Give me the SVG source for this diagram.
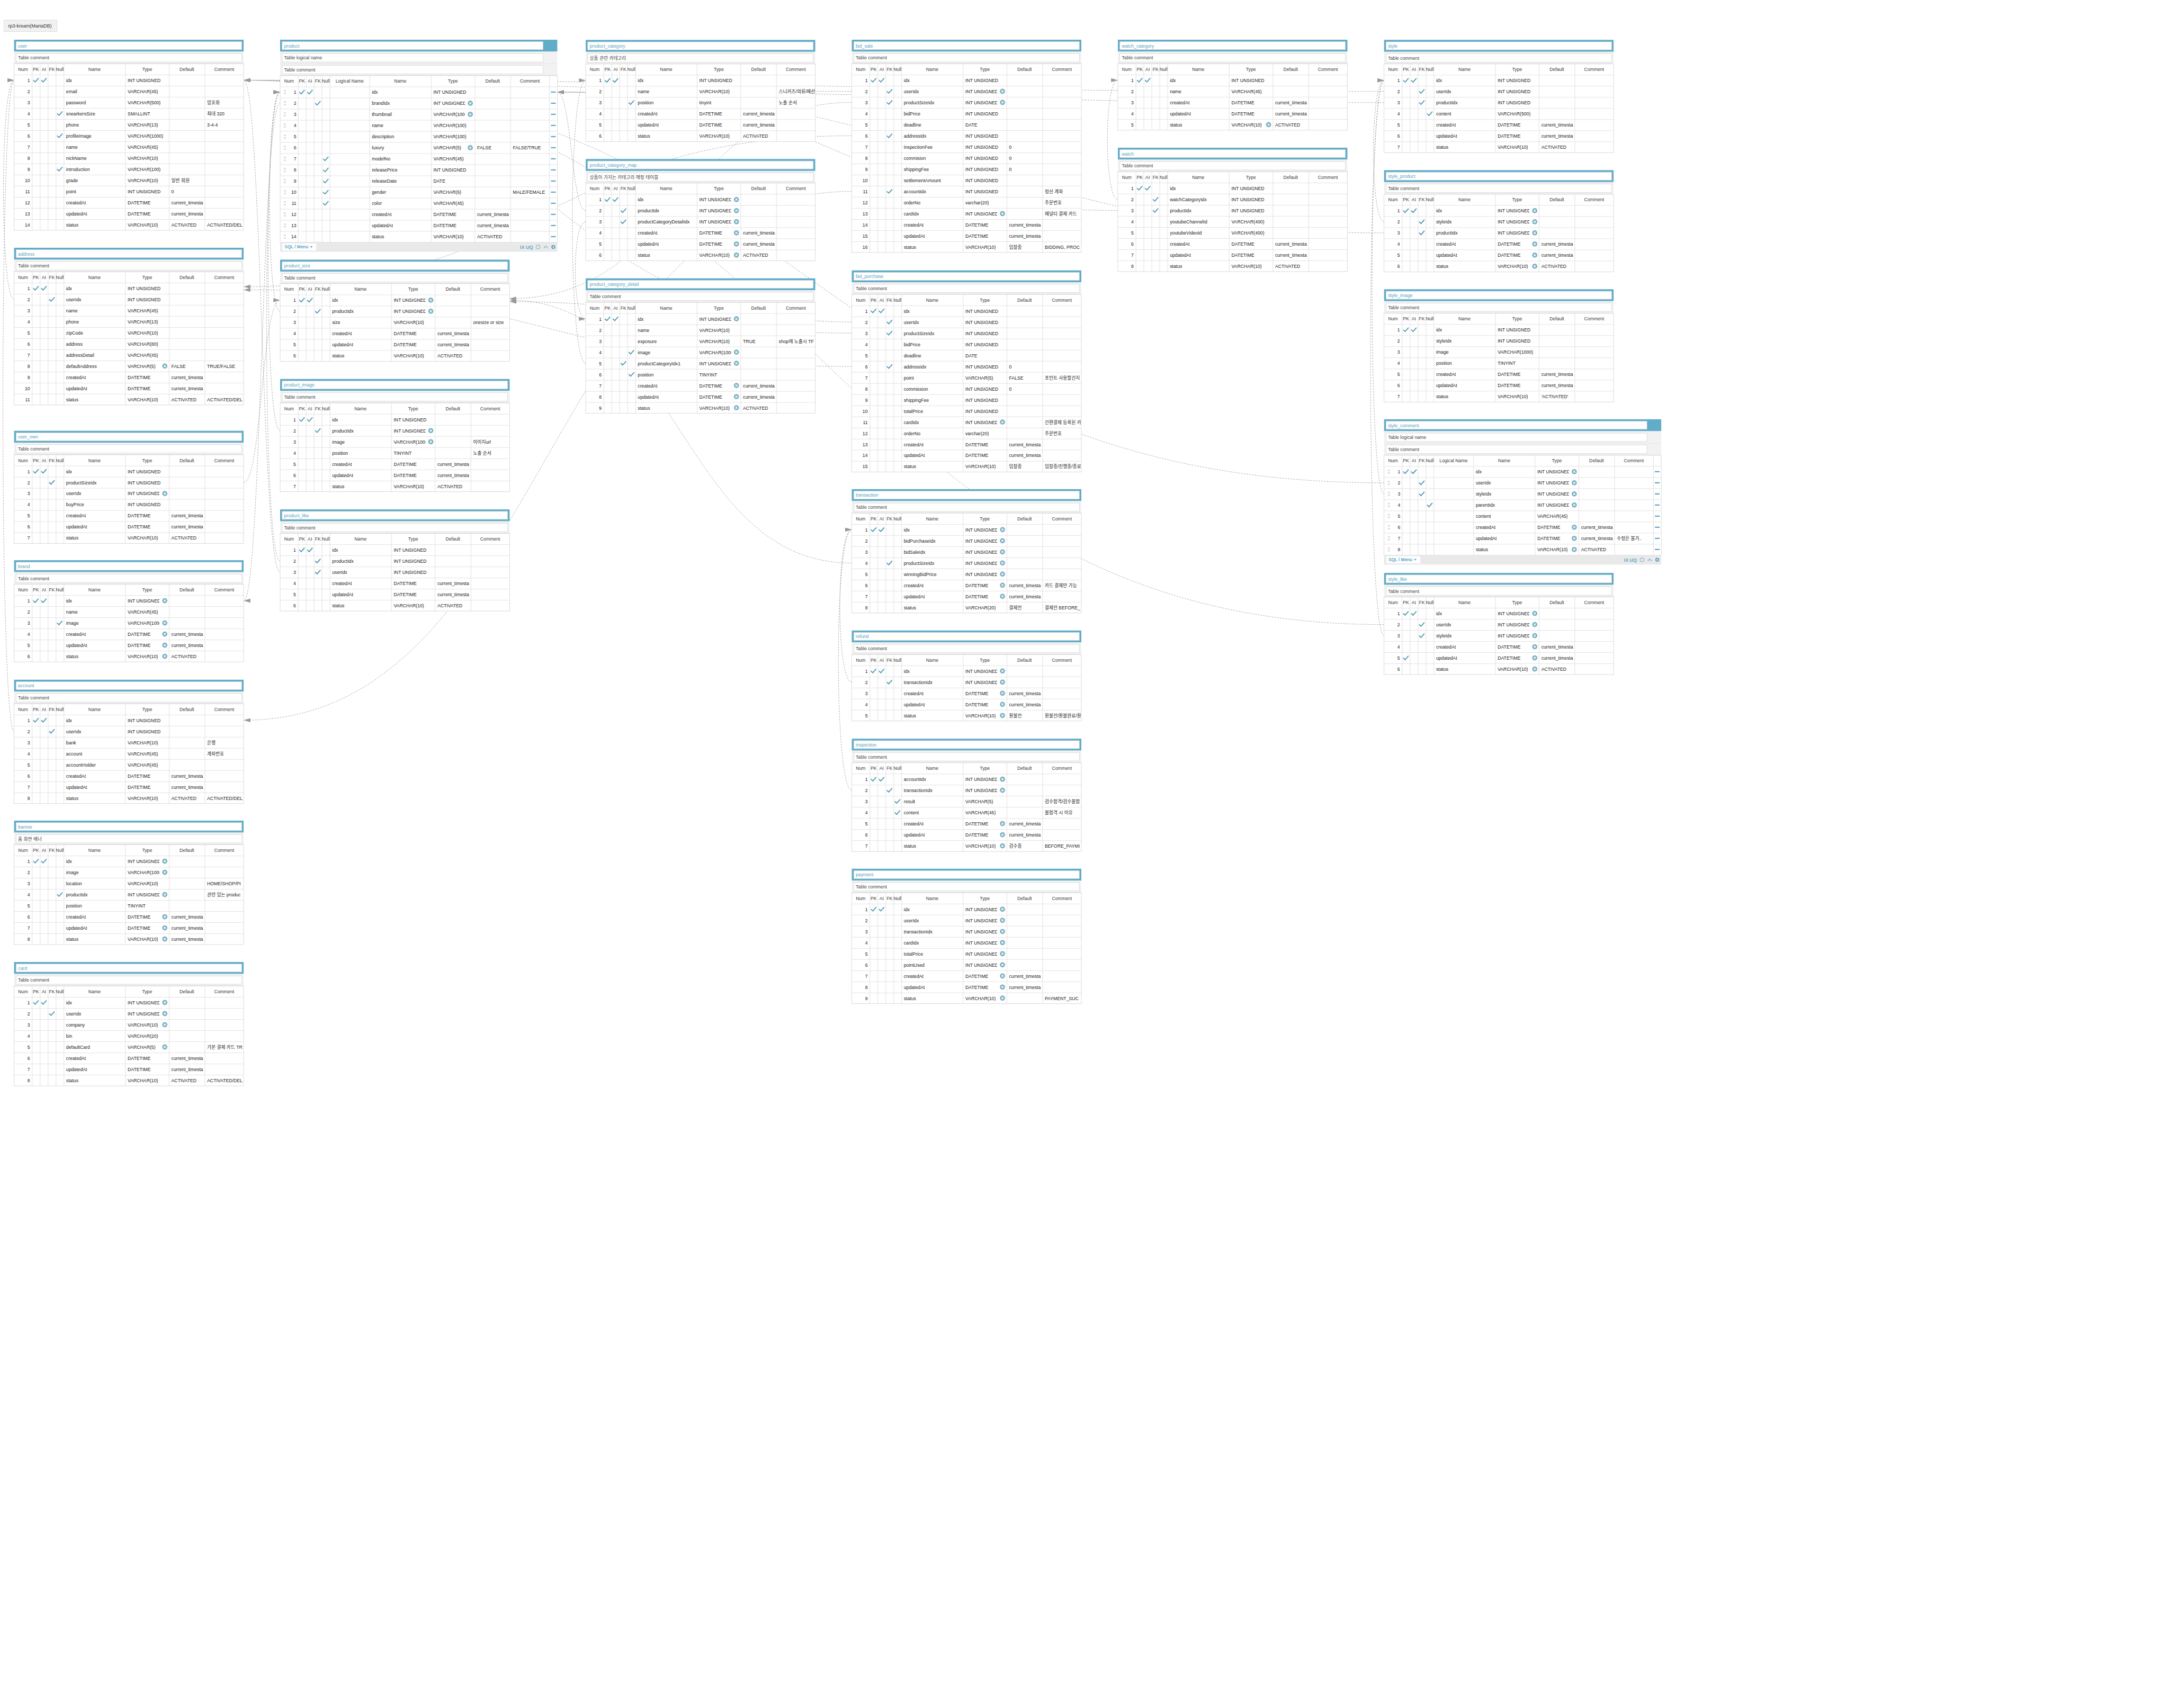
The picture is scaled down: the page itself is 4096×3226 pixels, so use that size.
<svg xmlns="http://www.w3.org/2000/svg" width="4096" height="3226" viewBox="0 0 4096 3226">
<style>
text{font-family:"Liberation Sans","Noto Sans CJK KR",sans-serif;font-size:11.6px;fill:#222}
.h{fill:#3a3a3a;text-anchor:middle}
.n{text-anchor:end}
.t{fill:#5aa3be}
.cm{fill:#444}
.tb{fill:#60acc9}
.bx{fill:#fff;stroke:#d6d6d6}
.co{clip-path:url(#cc)}
.cw{clip-path:url(#cwp)}
.cn path{fill:none;stroke:#9c9c9c;stroke-width:1.1;stroke-dasharray:4 3;marker-end:url(#ar)}
.f{fill:#5fa9c6;font-weight:bold;font-size:11px}
</style>
<defs>
<marker id="ar" markerUnits="userSpaceOnUse" markerWidth="18" markerHeight="12" refX="17" refY="5" orient="auto" viewBox="0 0 18 12"><path d="M0,0L17,5L0,10z" fill="#999"/></marker>
<pattern id="gp" patternUnits="userSpaceOnUse" x="0" y="4" width="578" height="28"><rect width="578" height="28" fill="#fff"/><path d="M0,0.5H578M45.5,0V28M65.5,0V28M85.5,0V28M105.5,0V28M125.5,0V28M280.5,0V28M390.5,0V28M480.5,0V28" stroke="#d5d5d5" fill="none"/></pattern>
<pattern id="gw" patternUnits="userSpaceOnUse" x="0" y="6" width="698" height="28"><rect width="698" height="28" fill="#fff"/><path d="M0,0.5H698M45.5,0V28M65.5,0V28M85.5,0V28M105.5,0V28M125.5,0V28M225.5,0V28M380.5,0V28M490.5,0V28M580.5,0V28M678.5,0V28" stroke="#d5d5d5" fill="none"/></pattern>
<clipPath id="cc"><rect x="481" y="0" width="96" height="600"/></clipPath>
<clipPath id="cwp"><rect x="581" y="0" width="96" height="600"/></clipPath>
<path id="ck" d="M-6,0.5L-2,4.5L6,-4.5" fill="none" stroke="#5a9fb4" stroke-width="2.6" stroke-linecap="round" stroke-linejoin="round"/>
<g id="xi"><rect x="-13.5" y="-9" width="21" height="18" fill="#fff"/><circle r="6.5" fill="#7cb2c4"/><path d="M-2.4,-2.4L2.4,2.4M2.4,-2.4L-2.4,2.4" stroke="#fff" stroke-width="1.7"/></g>
<g id="rw"><path d="M9,-2l3,-4l3,4zM9,2l3,4l3,-4z" fill="#c8c8c8"/><path d="M682,0h12" stroke="#5fa9c6" stroke-width="3"/></g>
<g id="hd"><rect width="578" height="30" class="tb"/><rect x="5" y="5" width="568" height="20" class="bx"/><rect y="30" width="578" height="30" fill="#f2f2f2"/><rect x="5" y="35" width="568" height="21" class="bx"/></g>
<g id="hw"><rect width="698" height="30" class="tb"/><rect x="5" y="5" width="657" height="20" class="bx"/><rect y="30" width="698" height="60" fill="#f2f2f2"/><path d="M0,60.5H698" stroke="#e2e2e2"/><rect x="5" y="35" width="657" height="21" class="bx"/><rect x="5" y="65" width="657" height="21" class="bx"/><path d="M682,104h12M688,98v12" stroke="#5fa9c6" stroke-width="3"/></g>
</defs>
<rect width="4096" height="3226" fill="#fff"/>
<g transform="scale(0.7499)">
<g id="db-label"><rect x="10.2" y="50.7" width="133.4" height="28.7" fill="#f1f1f1" stroke="#d4d4d4"/><text x="20.8" y="69" style="fill:#333;font-size:12px">rp3-kream(MariaDB)</text></g>

<g id="connectors" class="cn">
<path d="M35.5,754C0,754 0,202 35.5,202"/>
<path d="M35.5,1842C-2,1842 -2,202 35.5,202"/>
<path d="M613.5,1215C659,1215 659,756 705.4,756"/>
<path d="M705.4,260C659,260 659,1513 613.5,1513"/>
<path d="M705.4,784C670,784 670,232 705.4,232"/>
<path d="M705.4,1084.5C665,1084.5 665,232 705.4,232"/>
<path d="M705.4,1413C660,1413 660,232 705.4,232"/>
<path d="M705.4,1441C659,1441 659,202 613.5,202"/>
<path d="M1475,530.5C1439,530.5 1439,232 1403.4,232"/>
<path d="M1475,558.5C1440,558.5 1440,803 1475,803"/>
<path d="M1475,915C1430,915 1430,202.5 1475,202.5"/>
<path d="M2145,230C1379,230 1379,202 613.5,202"/>
<path d="M2145,258C1714,258 1714,752 1283.4,752"/>
<path d="M2145,342C1379,342 1379,722 613.5,722"/>
<path d="M2145,482C1379,482 1379,1814 613.5,1814"/>
<path d="M2145,811C1379,811 1379,202 613.5,202"/>
<path d="M2145,839C1714,839 1714,760 1283.4,760"/>
<path d="M2145,923C1379,923 1379,730 613.5,730"/>
<path d="M2145,1418C1714,1418 1714,756 1283.4,756"/>
<path d="M2145,1718C2105,1718 2105,1334 2145,1334"/>
<path d="M2145,1990.5C2100,1990.5 2100,1334 2145,1334"/>
<path d="M2815,502C2780,502 2780,202 2815,202"/>
<path d="M2815,530C2109,530 2109,232 1403.4,232"/>
<path d="M3485.4,230.4C2049,230.4 2049,202 613.5,202"/>
<path d="M3485.4,258.4C2444,258.4 2444,232 1403.4,232"/>
<path d="M3485.4,558.6C3450,558.6 3450,202.4 3485.4,202.4"/>
<path d="M3485.4,586.6C2444,586.6 2444,232 1403.4,232"/>
<path d="M3485.4,1216C2049,1216 2049,202 613.5,202"/>
<path d="M3485.4,1244C3445,1244 3445,202.4 3485.4,202.4"/>
<path d="M3485.4,1573C2049,1573 2049,202 613.5,202"/>
<path d="M3485.4,1601C3440,1601 3440,202.4 3485.4,202.4"/>
</g>

<g id="user" transform="translate(35.5,100)">
<use href="#hd"/><rect y="60" width="578" height="420" fill="url(#gp)" stroke="#cfcfcf"/>
<text class="t" x="10" y="19.5">user</text><text class="cm" x="10" y="50">Table comment</text>
<text class="h" y="78.5"><tspan x="22.5">Num</tspan><tspan x="55">PK</tspan><tspan x="75">AI</tspan><tspan x="95">FK</tspan><tspan x="115">Null</tspan><tspan x="202.5">Name</tspan><tspan x="335">Type</tspan><tspan x="435">Default</tspan><tspan x="529">Comment</tspan></text>
<text class="n"><tspan x="40" y="106.5">1</tspan><tspan x="40" y="134.5">2</tspan><tspan x="40" y="162.5">3</tspan><tspan x="40" y="190.5">4</tspan><tspan x="40" y="218.5">5</tspan><tspan x="40" y="246.5">6</tspan><tspan x="40" y="274.5">7</tspan><tspan x="40" y="302.5">8</tspan><tspan x="40" y="330.5">9</tspan><tspan x="40" y="358.5">10</tspan><tspan x="40" y="386.5">11</tspan><tspan x="40" y="414.5">12</tspan><tspan x="40" y="442.5">13</tspan><tspan x="40" y="470.5">14</tspan></text>
<text y="106.5"><tspan x="131">idx</tspan><tspan x="286">INT UNSIGNED</tspan></text>
<text y="134.5"><tspan x="131">email</tspan><tspan x="286">VARCHAR(45)</tspan></text>
<text y="162.5"><tspan x="131">password</tspan><tspan x="286">VARCHAR(500)</tspan></text>
<text y="190.5"><tspan x="131">snearkersSize</tspan><tspan x="286">SMALLINT</tspan></text>
<text y="218.5"><tspan x="131">phone</tspan><tspan x="286">VARCHAR(13)</tspan></text>
<text y="246.5"><tspan x="131">profileImage</tspan><tspan x="286">VARCHAR(1000)</tspan></text>
<text y="274.5"><tspan x="131">name</tspan><tspan x="286">VARCHAR(45)</tspan></text>
<text y="302.5"><tspan x="131">nickName</tspan><tspan x="286">VARCHAR(10)</tspan></text>
<text y="330.5"><tspan x="131">introduction</tspan><tspan x="286">VARCHAR(100)</tspan></text>
<text y="358.5"><tspan x="131">grade</tspan><tspan x="286">VARCHAR(10)</tspan><tspan x="396">일반 회원</tspan></text>
<text y="386.5"><tspan x="131">point</tspan><tspan x="286">INT UNSIGNED</tspan><tspan x="396">0</tspan></text>
<text y="414.5"><tspan x="131">createdAt</tspan><tspan x="286">DATETIME</tspan><tspan x="396">current_timesta</tspan></text>
<text y="442.5"><tspan x="131">updatedAt</tspan><tspan x="286">DATETIME</tspan><tspan x="396">current_timesta</tspan></text>
<text y="470.5"><tspan x="131">status</tspan><tspan x="286">VARCHAR(10)</tspan><tspan x="396">ACTIVATED</tspan></text>
<text class="co" x="486" y="162.5">암호화</text><text class="co" x="486" y="190.5">최대 320</text><text class="co" x="486" y="218.5">3-4-4</text><text class="co" x="486" y="470.5">ACTIVATED/DEL</text>
<use href="#ck" x="55" y="102"/><use href="#ck" x="75" y="102"/><use href="#ck" x="115" y="186"/><use href="#ck" x="115" y="242"/><use href="#ck" x="115" y="326"/>
</g>

<g id="address" transform="translate(35.5,624)">
<use href="#hd"/><rect y="60" width="578" height="336" fill="url(#gp)" stroke="#cfcfcf"/>
<text class="t" x="10" y="19.5">address</text><text class="cm" x="10" y="50">Table comment</text>
<text class="h" y="78.5"><tspan x="22.5">Num</tspan><tspan x="55">PK</tspan><tspan x="75">AI</tspan><tspan x="95">FK</tspan><tspan x="115">Null</tspan><tspan x="202.5">Name</tspan><tspan x="335">Type</tspan><tspan x="435">Default</tspan><tspan x="529">Comment</tspan></text>
<text class="n"><tspan x="40" y="106.5">1</tspan><tspan x="40" y="134.5">2</tspan><tspan x="40" y="162.5">3</tspan><tspan x="40" y="190.5">4</tspan><tspan x="40" y="218.5">5</tspan><tspan x="40" y="246.5">6</tspan><tspan x="40" y="274.5">7</tspan><tspan x="40" y="302.5">8</tspan><tspan x="40" y="330.5">9</tspan><tspan x="40" y="358.5">10</tspan><tspan x="40" y="386.5">11</tspan></text>
<text y="106.5"><tspan x="131">idx</tspan><tspan x="286">INT UNSIGNED</tspan></text>
<text y="134.5"><tspan x="131">userIdx</tspan><tspan x="286">INT UNSIGNED</tspan></text>
<text y="162.5"><tspan x="131">name</tspan><tspan x="286">VARCHAR(45)</tspan></text>
<text y="190.5"><tspan x="131">phone</tspan><tspan x="286">VARCHAR(13)</tspan></text>
<text y="218.5"><tspan x="131">zipCode</tspan><tspan x="286">VARCHAR(10)</tspan></text>
<text y="246.5"><tspan x="131">address</tspan><tspan x="286">VARCHAR(80)</tspan></text>
<text y="274.5"><tspan x="131">addressDetail</tspan><tspan x="286">VARCHAR(45)</tspan></text>
<text y="302.5"><tspan x="131">defaultAddress</tspan><tspan x="286">VARCHAR(5)</tspan><tspan x="396">FALSE</tspan></text>
<text y="330.5"><tspan x="131">createdAt</tspan><tspan x="286">DATETIME</tspan><tspan x="396">current_timesta</tspan></text>
<text y="358.5"><tspan x="131">updatedAt</tspan><tspan x="286">DATETIME</tspan><tspan x="396">current_timesta</tspan></text>
<text y="386.5"><tspan x="131">status</tspan><tspan x="286">VARCHAR(10)</tspan><tspan x="396">ACTIVATED</tspan></text>
<text class="co" x="486" y="302.5">TRUE/FALSE</text><text class="co" x="486" y="386.5">ACTIVATED/DEL</text>
<use href="#xi" x="379.5" y="298"/>
<use href="#ck" x="55" y="102"/><use href="#ck" x="75" y="102"/><use href="#ck" x="95" y="130"/>
</g>

<g id="user_own" transform="translate(35.5,1085)">
<use href="#hd"/><rect y="60" width="578" height="224" fill="url(#gp)" stroke="#cfcfcf"/>
<text class="t" x="10" y="19.5">user_own</text><text class="cm" x="10" y="50">Table comment</text>
<text class="h" y="78.5"><tspan x="22.5">Num</tspan><tspan x="55">PK</tspan><tspan x="75">AI</tspan><tspan x="95">FK</tspan><tspan x="115">Null</tspan><tspan x="202.5">Name</tspan><tspan x="335">Type</tspan><tspan x="435">Default</tspan><tspan x="529">Comment</tspan></text>
<text class="n"><tspan x="40" y="106.5">1</tspan><tspan x="40" y="134.5">2</tspan><tspan x="40" y="162.5">3</tspan><tspan x="40" y="190.5">4</tspan><tspan x="40" y="218.5">5</tspan><tspan x="40" y="246.5">6</tspan><tspan x="40" y="274.5">7</tspan></text>
<text y="106.5"><tspan x="131">idx</tspan><tspan x="286">INT UNSIGNED</tspan></text>
<text y="134.5"><tspan x="131">productSizeIdx</tspan><tspan x="286">INT UNSIGNED</tspan></text>
<text y="162.5"><tspan x="131">userIdx</tspan><tspan x="286">INT UNSIGNED</tspan></text>
<text y="190.5"><tspan x="131">buyPrice</tspan><tspan x="286">INT UNSIGNED</tspan></text>
<text y="218.5"><tspan x="131">createdAt</tspan><tspan x="286">DATETIME</tspan><tspan x="396">current_timesta</tspan></text>
<text y="246.5"><tspan x="131">updatedAt</tspan><tspan x="286">DATETIME</tspan><tspan x="396">current_timesta</tspan></text>
<text y="274.5"><tspan x="131">status</tspan><tspan x="286">VARCHAR(10)</tspan><tspan x="396">ACTIVATED</tspan></text>
<use href="#xi" x="379.5" y="158"/>
<use href="#ck" x="55" y="102"/><use href="#ck" x="75" y="102"/><use href="#ck" x="95" y="130"/>
</g>

<g id="brand" transform="translate(35.5,1411)">
<use href="#hd"/><rect y="60" width="578" height="196" fill="url(#gp)" stroke="#cfcfcf"/>
<text class="t" x="10" y="19.5">brand</text><text class="cm" x="10" y="50">Table comment</text>
<text class="h" y="78.5"><tspan x="22.5">Num</tspan><tspan x="55">PK</tspan><tspan x="75">AI</tspan><tspan x="95">FK</tspan><tspan x="115">Null</tspan><tspan x="202.5">Name</tspan><tspan x="335">Type</tspan><tspan x="435">Default</tspan><tspan x="529">Comment</tspan></text>
<text class="n"><tspan x="40" y="106.5">1</tspan><tspan x="40" y="134.5">2</tspan><tspan x="40" y="162.5">3</tspan><tspan x="40" y="190.5">4</tspan><tspan x="40" y="218.5">5</tspan><tspan x="40" y="246.5">6</tspan></text>
<text y="106.5"><tspan x="131">idx</tspan><tspan x="286">INT UNSIGNED</tspan></text>
<text y="134.5"><tspan x="131">name</tspan><tspan x="286">VARCHAR(45)</tspan></text>
<text y="162.5"><tspan x="131">image</tspan><tspan x="286">VARCHAR(1000)</tspan></text>
<text y="190.5"><tspan x="131">createdAt</tspan><tspan x="286">DATETIME</tspan><tspan x="396">current_timesta</tspan></text>
<text y="218.5"><tspan x="131">updatedAt</tspan><tspan x="286">DATETIME</tspan><tspan x="396">current_timesta</tspan></text>
<text y="246.5"><tspan x="131">status</tspan><tspan x="286">VARCHAR(10)</tspan><tspan x="396">ACTIVATED</tspan></text>
<use href="#xi" x="379.5" y="102"/><use href="#xi" x="379.5" y="158"/><use href="#xi" x="379.5" y="186"/><use href="#xi" x="379.5" y="214"/><use href="#xi" x="379.5" y="242"/>
<use href="#ck" x="55" y="102"/><use href="#ck" x="75" y="102"/><use href="#ck" x="115" y="158"/>
</g>

<g id="account" transform="translate(35.5,1712)">
<use href="#hd"/><rect y="60" width="578" height="252" fill="url(#gp)" stroke="#cfcfcf"/>
<text class="t" x="10" y="19.5">account</text><text class="cm" x="10" y="50">Table comment</text>
<text class="h" y="78.5"><tspan x="22.5">Num</tspan><tspan x="55">PK</tspan><tspan x="75">AI</tspan><tspan x="95">FK</tspan><tspan x="115">Null</tspan><tspan x="202.5">Name</tspan><tspan x="335">Type</tspan><tspan x="435">Default</tspan><tspan x="529">Comment</tspan></text>
<text class="n"><tspan x="40" y="106.5">1</tspan><tspan x="40" y="134.5">2</tspan><tspan x="40" y="162.5">3</tspan><tspan x="40" y="190.5">4</tspan><tspan x="40" y="218.5">5</tspan><tspan x="40" y="246.5">6</tspan><tspan x="40" y="274.5">7</tspan><tspan x="40" y="302.5">8</tspan></text>
<text y="106.5"><tspan x="131">idx</tspan><tspan x="286">INT UNSIGNED</tspan></text>
<text y="134.5"><tspan x="131">userIdx</tspan><tspan x="286">INT UNSIGNED</tspan></text>
<text y="162.5"><tspan x="131">bank</tspan><tspan x="286">VARCHAR(10)</tspan></text>
<text y="190.5"><tspan x="131">account</tspan><tspan x="286">VARCHAR(45)</tspan></text>
<text y="218.5"><tspan x="131">accountHolder</tspan><tspan x="286">VARCHAR(45)</tspan></text>
<text y="246.5"><tspan x="131">createdAt</tspan><tspan x="286">DATETIME</tspan><tspan x="396">current_timesta</tspan></text>
<text y="274.5"><tspan x="131">updatedAt</tspan><tspan x="286">DATETIME</tspan><tspan x="396">current_timesta</tspan></text>
<text y="302.5"><tspan x="131">status</tspan><tspan x="286">VARCHAR(10)</tspan><tspan x="396">ACTIVATED</tspan></text>
<text class="co" x="486" y="162.5">은행</text><text class="co" x="486" y="190.5">계좌번호</text><text class="co" x="486" y="302.5">ACTIVATED/DEL</text>
<use href="#ck" x="55" y="102"/><use href="#ck" x="75" y="102"/><use href="#ck" x="95" y="130"/>
</g>

<g id="banner" transform="translate(35.5,2067)">
<use href="#hd"/><rect y="60" width="578" height="252" fill="url(#gp)" stroke="#cfcfcf"/>
<text class="t" x="10" y="19.5">banner</text><text class="cm" x="10" y="50">홈 화면 배너</text>
<text class="h" y="78.5"><tspan x="22.5">Num</tspan><tspan x="55">PK</tspan><tspan x="75">AI</tspan><tspan x="95">FK</tspan><tspan x="115">Null</tspan><tspan x="202.5">Name</tspan><tspan x="335">Type</tspan><tspan x="435">Default</tspan><tspan x="529">Comment</tspan></text>
<text class="n"><tspan x="40" y="106.5">1</tspan><tspan x="40" y="134.5">2</tspan><tspan x="40" y="162.5">3</tspan><tspan x="40" y="190.5">4</tspan><tspan x="40" y="218.5">5</tspan><tspan x="40" y="246.5">6</tspan><tspan x="40" y="274.5">7</tspan><tspan x="40" y="302.5">8</tspan></text>
<text y="106.5"><tspan x="131">idx</tspan><tspan x="286">INT UNSIGNED</tspan></text>
<text y="134.5"><tspan x="131">image</tspan><tspan x="286">VARCHAR(1000)</tspan></text>
<text y="162.5"><tspan x="131">location</tspan><tspan x="286">VARCHAR(10)</tspan></text>
<text y="190.5"><tspan x="131">productIdx</tspan><tspan x="286">INT UNSIGNED</tspan></text>
<text y="218.5"><tspan x="131">position</tspan><tspan x="286">TINYINT</tspan></text>
<text y="246.5"><tspan x="131">createdAt</tspan><tspan x="286">DATETIME</tspan><tspan x="396">current_timesta</tspan></text>
<text y="274.5"><tspan x="131">updatedAt</tspan><tspan x="286">DATETIME</tspan><tspan x="396">current_timesta</tspan></text>
<text y="302.5"><tspan x="131">status</tspan><tspan x="286">VARCHAR(10)</tspan><tspan x="396">current_timesta</tspan></text>
<text class="co" x="486" y="162.5">HOME/SHOP/PI</text><text class="co" x="486" y="190.5">관련 있는 produc</text>
<use href="#xi" x="379.5" y="102"/><use href="#xi" x="379.5" y="130"/><use href="#xi" x="379.5" y="186"/><use href="#xi" x="379.5" y="242"/><use href="#xi" x="379.5" y="270"/><use href="#xi" x="379.5" y="298"/>
<use href="#ck" x="55" y="102"/><use href="#ck" x="75" y="102"/><use href="#ck" x="115" y="186"/>
</g>

<g id="card" transform="translate(35.5,2423)">
<use href="#hd"/><rect y="60" width="578" height="252" fill="url(#gp)" stroke="#cfcfcf"/>
<text class="t" x="10" y="19.5">card</text><text class="cm" x="10" y="50">Table comment</text>
<text class="h" y="78.5"><tspan x="22.5">Num</tspan><tspan x="55">PK</tspan><tspan x="75">AI</tspan><tspan x="95">FK</tspan><tspan x="115">Null</tspan><tspan x="202.5">Name</tspan><tspan x="335">Type</tspan><tspan x="435">Default</tspan><tspan x="529">Comment</tspan></text>
<text class="n"><tspan x="40" y="106.5">1</tspan><tspan x="40" y="134.5">2</tspan><tspan x="40" y="162.5">3</tspan><tspan x="40" y="190.5">4</tspan><tspan x="40" y="218.5">5</tspan><tspan x="40" y="246.5">6</tspan><tspan x="40" y="274.5">7</tspan><tspan x="40" y="302.5">8</tspan></text>
<text y="106.5"><tspan x="131">idx</tspan><tspan x="286">INT UNSIGNED</tspan></text>
<text y="134.5"><tspan x="131">userIdx</tspan><tspan x="286">INT UNSIGNED</tspan></text>
<text y="162.5"><tspan x="131">company</tspan><tspan x="286">VARCHAR(10)</tspan></text>
<text y="190.5"><tspan x="131">bin</tspan><tspan x="286">VARCHAR(20)</tspan></text>
<text y="218.5"><tspan x="131">defaultCard</tspan><tspan x="286">VARCHAR(5)</tspan></text>
<text y="246.5"><tspan x="131">createdAt</tspan><tspan x="286">DATETIME</tspan><tspan x="396">current_timesta</tspan></text>
<text y="274.5"><tspan x="131">updatedAt</tspan><tspan x="286">DATETIME</tspan><tspan x="396">current_timesta</tspan></text>
<text y="302.5"><tspan x="131">status</tspan><tspan x="286">VARCHAR(10)</tspan><tspan x="396">ACTIVATED</tspan></text>
<text class="co" x="486" y="218.5">기본 결제 카드 TR</text><text class="co" x="486" y="302.5">ACTIVATED/DEL</text>
<use href="#xi" x="379.5" y="102"/><use href="#xi" x="379.5" y="130"/><use href="#xi" x="379.5" y="158"/><use href="#xi" x="379.5" y="214"/>
<use href="#ck" x="55" y="102"/><use href="#ck" x="75" y="102"/><use href="#ck" x="95" y="130"/>
</g>

<g id="product" transform="translate(705.4,100)">
<use href="#hw"/><rect y="90" width="698" height="420" fill="url(#gw)" stroke="#cfcfcf"/>
<text class="t" x="10" y="19.5">product</text><text class="cm" x="10" y="50">Table logical name</text><text class="cm" x="10" y="80">Table comment</text>
<text class="h" y="108.5"><tspan x="22.5">Num</tspan><tspan x="55">PK</tspan><tspan x="75">AI</tspan><tspan x="95">FK</tspan><tspan x="115">Null</tspan><tspan x="175">Logical Name</tspan><tspan x="302.5">Name</tspan><tspan x="435">Type</tspan><tspan x="535">Default</tspan><tspan x="629">Comment</tspan></text>
<text class="n"><tspan x="41" y="136.5">1</tspan><tspan x="41" y="164.5">2</tspan><tspan x="41" y="192.5">3</tspan><tspan x="41" y="220.5">4</tspan><tspan x="41" y="248.5">5</tspan><tspan x="41" y="276.5">6</tspan><tspan x="41" y="304.5">7</tspan><tspan x="41" y="332.5">8</tspan><tspan x="41" y="360.5">9</tspan><tspan x="41" y="388.5">10</tspan><tspan x="41" y="416.5">11</tspan><tspan x="41" y="444.5">12</tspan><tspan x="41" y="472.5">13</tspan><tspan x="41" y="500.5">14</tspan></text>
<text y="136.5"><tspan x="231">idx</tspan><tspan x="386">INT UNSIGNED</tspan></text>
<text y="164.5"><tspan x="231">brandIdx</tspan><tspan x="386">INT UNSIGNED</tspan></text>
<text y="192.5"><tspan x="231">thumbnail</tspan><tspan x="386">VARCHAR(1000)</tspan></text>
<text y="220.5"><tspan x="231">name</tspan><tspan x="386">VARCHAR(100)</tspan></text>
<text y="248.5"><tspan x="231">description</tspan><tspan x="386">VARCHAR(100)</tspan></text>
<text y="276.5"><tspan x="231">luxury</tspan><tspan x="386">VARCHAR(5)</tspan><tspan x="496">FALSE</tspan></text>
<text y="304.5"><tspan x="231">modelNo</tspan><tspan x="386">VARCHAR(45)</tspan></text>
<text y="332.5"><tspan x="231">releasePrice</tspan><tspan x="386">INT UNSIGNED</tspan></text>
<text y="360.5"><tspan x="231">releaseDate</tspan><tspan x="386">DATE</tspan></text>
<text y="388.5"><tspan x="231">gender</tspan><tspan x="386">VARCHAR(6)</tspan></text>
<text y="416.5"><tspan x="231">color</tspan><tspan x="386">VARCHAR(45)</tspan></text>
<text y="444.5"><tspan x="231">createdAt</tspan><tspan x="386">DATETIME</tspan><tspan x="496">current_timesta</tspan></text>
<text y="472.5"><tspan x="231">updatedAt</tspan><tspan x="386">DATETIME</tspan><tspan x="496">current_timesta</tspan></text>
<text y="500.5"><tspan x="231">status</tspan><tspan x="386">VARCHAR(10)</tspan><tspan x="496">ACTIVATED</tspan></text>
<text class="cw" x="586" y="276.5">FALSE/TRUE</text><text class="cw" x="586" y="388.5">MALE/FEMALE</text>
<use href="#xi" x="479" y="160"/><use href="#xi" x="479" y="188"/><use href="#xi" x="479" y="272"/>
<use href="#rw" y="132"/><use href="#rw" y="160"/><use href="#rw" y="188"/><use href="#rw" y="216"/><use href="#rw" y="244"/><use href="#rw" y="272"/><use href="#rw" y="300"/><use href="#rw" y="328"/><use href="#rw" y="356"/><use href="#rw" y="384"/><use href="#rw" y="412"/><use href="#rw" y="440"/><use href="#rw" y="468"/><use href="#rw" y="496"/>
<use href="#ck" x="55" y="132"/><use href="#ck" x="75" y="132"/><use href="#ck" x="95" y="160"/><use href="#ck" x="115" y="300"/><use href="#ck" x="115" y="328"/><use href="#ck" x="115" y="356"/><use href="#ck" x="115" y="384"/><use href="#ck" x="115" y="412"/>
<g transform="translate(0,510)"><rect width="698" height="24" fill="#e9e9e9"/><rect x="6" y="3" width="85" height="18" rx="2" fill="#fff"/><text class="f" x="11" y="16">SQL / Menu</text><path d="M75,10h7l-3.5,4z" fill="#5fa9c6"/><text class="f" x="604" y="17" style="font-size:12px">IX UQ</text><circle cx="649.5" cy="12" r="5" fill="none" stroke="#5fa9c6" stroke-width="1.3"/><path d="M664,15l5,-5l5,5" fill="none" stroke="#5fa9c6" stroke-width="1.5"/><circle cx="688" cy="12" r="5" fill="#5fa9c6"/><circle cx="688" cy="12" r="2" fill="#e9e9e9"/></g>
</g>

<g id="product_size" transform="translate(705.4,654)">
<use href="#hd"/><rect y="60" width="578" height="196" fill="url(#gp)" stroke="#cfcfcf"/>
<text class="t" x="10" y="19.5">product_size</text><text class="cm" x="10" y="50">Table comment</text>
<text class="h" y="78.5"><tspan x="22.5">Num</tspan><tspan x="55">PK</tspan><tspan x="75">AI</tspan><tspan x="95">FK</tspan><tspan x="115">Null</tspan><tspan x="202.5">Name</tspan><tspan x="335">Type</tspan><tspan x="435">Default</tspan><tspan x="529">Comment</tspan></text>
<text class="n"><tspan x="40" y="106.5">1</tspan><tspan x="40" y="134.5">2</tspan><tspan x="40" y="162.5">3</tspan><tspan x="40" y="190.5">4</tspan><tspan x="40" y="218.5">5</tspan><tspan x="40" y="246.5">6</tspan></text>
<text y="106.5"><tspan x="131">idx</tspan><tspan x="286">INT UNSIGNED</tspan></text>
<text y="134.5"><tspan x="131">productIdx</tspan><tspan x="286">INT UNSIGNED</tspan></text>
<text y="162.5"><tspan x="131">size</tspan><tspan x="286">VARCHAR(10)</tspan></text>
<text y="190.5"><tspan x="131">createdAt</tspan><tspan x="286">DATETIME</tspan><tspan x="396">current_timesta</tspan></text>
<text y="218.5"><tspan x="131">updatedAt</tspan><tspan x="286">DATETIME</tspan><tspan x="396">current_timesta</tspan></text>
<text y="246.5"><tspan x="131">status</tspan><tspan x="286">VARCHAR(10)</tspan><tspan x="396">ACTIVATED</tspan></text>
<text class="co" x="486" y="162.5">onesize or size</text>
<use href="#xi" x="379.5" y="102"/><use href="#xi" x="379.5" y="130"/>
<use href="#ck" x="55" y="102"/><use href="#ck" x="75" y="102"/><use href="#ck" x="95" y="130"/>
</g>

<g id="product_image" transform="translate(705.4,954.5)">
<use href="#hd"/><rect y="60" width="578" height="224" fill="url(#gp)" stroke="#cfcfcf"/>
<text class="t" x="10" y="19.5">product_image</text><text class="cm" x="10" y="50">Table comment</text>
<text class="h" y="78.5"><tspan x="22.5">Num</tspan><tspan x="55">PK</tspan><tspan x="75">AI</tspan><tspan x="95">FK</tspan><tspan x="115">Null</tspan><tspan x="202.5">Name</tspan><tspan x="335">Type</tspan><tspan x="435">Default</tspan><tspan x="529">Comment</tspan></text>
<text class="n"><tspan x="40" y="106.5">1</tspan><tspan x="40" y="134.5">2</tspan><tspan x="40" y="162.5">3</tspan><tspan x="40" y="190.5">4</tspan><tspan x="40" y="218.5">5</tspan><tspan x="40" y="246.5">6</tspan><tspan x="40" y="274.5">7</tspan></text>
<text y="106.5"><tspan x="131">idx</tspan><tspan x="286">INT UNSIGNED</tspan></text>
<text y="134.5"><tspan x="131">productIdx</tspan><tspan x="286">INT UNSIGNED</tspan></text>
<text y="162.5"><tspan x="131">image</tspan><tspan x="286">VARCHAR(1000)</tspan></text>
<text y="190.5"><tspan x="131">position</tspan><tspan x="286">TINYINT</tspan></text>
<text y="218.5"><tspan x="131">createdAt</tspan><tspan x="286">DATETIME</tspan><tspan x="396">current_timesta</tspan></text>
<text y="246.5"><tspan x="131">updatedAt</tspan><tspan x="286">DATETIME</tspan><tspan x="396">current_timesta</tspan></text>
<text y="274.5"><tspan x="131">status</tspan><tspan x="286">VARCHAR(10)</tspan><tspan x="396">ACTIVATED</tspan></text>
<text class="co" x="486" y="162.5">이미지url</text><text class="co" x="486" y="190.5">노출 순서</text>
<use href="#xi" x="379.5" y="130"/><use href="#xi" x="379.5" y="158"/>
<use href="#ck" x="55" y="102"/><use href="#ck" x="75" y="102"/><use href="#ck" x="95" y="130"/>
</g>

<g id="product_like" transform="translate(705.4,1283)">
<use href="#hd"/><rect y="60" width="578" height="196" fill="url(#gp)" stroke="#cfcfcf"/>
<text class="t" x="10" y="19.5">product_like</text><text class="cm" x="10" y="50">Table comment</text>
<text class="h" y="78.5"><tspan x="22.5">Num</tspan><tspan x="55">PK</tspan><tspan x="75">AI</tspan><tspan x="95">FK</tspan><tspan x="115">Null</tspan><tspan x="202.5">Name</tspan><tspan x="335">Type</tspan><tspan x="435">Default</tspan><tspan x="529">Comment</tspan></text>
<text class="n"><tspan x="40" y="106.5">1</tspan><tspan x="40" y="134.5">2</tspan><tspan x="40" y="162.5">3</tspan><tspan x="40" y="190.5">4</tspan><tspan x="40" y="218.5">5</tspan><tspan x="40" y="246.5">6</tspan></text>
<text y="106.5"><tspan x="131">idx</tspan><tspan x="286">INT UNSIGNED</tspan></text>
<text y="134.5"><tspan x="131">productIdx</tspan><tspan x="286">INT UNSIGNED</tspan></text>
<text y="162.5"><tspan x="131">userIdx</tspan><tspan x="286">INT UNSIGNED</tspan></text>
<text y="190.5"><tspan x="131">createdAt</tspan><tspan x="286">DATETIME</tspan><tspan x="396">current_timesta</tspan></text>
<text y="218.5"><tspan x="131">updatedAt</tspan><tspan x="286">DATETIME</tspan><tspan x="396">current_timesta</tspan></text>
<text y="246.5"><tspan x="131">status</tspan><tspan x="286">VARCHAR(10)</tspan><tspan x="396">ACTIVATED</tspan></text>
<use href="#ck" x="55" y="102"/><use href="#ck" x="75" y="102"/><use href="#ck" x="95" y="130"/><use href="#ck" x="95" y="158"/>
</g>

<g id="product_category" transform="translate(1475,100.5)">
<use href="#hd"/><rect y="60" width="578" height="196" fill="url(#gp)" stroke="#cfcfcf"/>
<text class="t" x="10" y="19.5">product_category</text><text class="cm" x="10" y="50">상품 관련 카테고리</text>
<text class="h" y="78.5"><tspan x="22.5">Num</tspan><tspan x="55">PK</tspan><tspan x="75">AI</tspan><tspan x="95">FK</tspan><tspan x="115">Null</tspan><tspan x="202.5">Name</tspan><tspan x="335">Type</tspan><tspan x="435">Default</tspan><tspan x="529">Comment</tspan></text>
<text class="n"><tspan x="40" y="106.5">1</tspan><tspan x="40" y="134.5">2</tspan><tspan x="40" y="162.5">3</tspan><tspan x="40" y="190.5">4</tspan><tspan x="40" y="218.5">5</tspan><tspan x="40" y="246.5">6</tspan></text>
<text y="106.5"><tspan x="131">idx</tspan><tspan x="286">INT UNSIGNED</tspan></text>
<text y="134.5"><tspan x="131">name</tspan><tspan x="286">VARCHAR(10)</tspan></text>
<text y="162.5"><tspan x="131">position</tspan><tspan x="286">tinyint</tspan></text>
<text y="190.5"><tspan x="131">createdAt</tspan><tspan x="286">DATETIME</tspan><tspan x="396">current_timesta</tspan></text>
<text y="218.5"><tspan x="131">updatedAt</tspan><tspan x="286">DATETIME</tspan><tspan x="396">current_timesta</tspan></text>
<text y="246.5"><tspan x="131">status</tspan><tspan x="286">VARCHAR(10)</tspan><tspan x="396">ACTIVATED</tspan></text>
<text class="co" x="486" y="134.5">스니커즈/의류/패션</text><text class="co" x="486" y="162.5">노출 순서</text>
<use href="#ck" x="55" y="102"/><use href="#ck" x="75" y="102"/><use href="#ck" x="115" y="158"/>
</g>

<g id="product_category_map" transform="translate(1475,400.5)">
<use href="#hd"/><rect y="60" width="578" height="196" fill="url(#gp)" stroke="#cfcfcf"/>
<text class="t" x="10" y="19.5">product_category_map</text><text class="cm" x="10" y="50">상품이 가지는 카테고리 매핑 테이블</text>
<text class="h" y="78.5"><tspan x="22.5">Num</tspan><tspan x="55">PK</tspan><tspan x="75">AI</tspan><tspan x="95">FK</tspan><tspan x="115">Null</tspan><tspan x="202.5">Name</tspan><tspan x="335">Type</tspan><tspan x="435">Default</tspan><tspan x="529">Comment</tspan></text>
<text class="n"><tspan x="40" y="106.5">1</tspan><tspan x="40" y="134.5">2</tspan><tspan x="40" y="162.5">3</tspan><tspan x="40" y="190.5">4</tspan><tspan x="40" y="218.5">5</tspan><tspan x="40" y="246.5">6</tspan></text>
<text y="106.5"><tspan x="131">idx</tspan><tspan x="286">INT UNSIGNED</tspan></text>
<text y="134.5"><tspan x="131">productIdx</tspan><tspan x="286">INT UNSIGNED</tspan></text>
<text y="162.5"><tspan x="131">productCategoryDetailIdx</tspan><tspan x="286">INT UNSIGNED</tspan></text>
<text y="190.5"><tspan x="131">createdAt</tspan><tspan x="286">DATETIME</tspan><tspan x="396">current_timesta</tspan></text>
<text y="218.5"><tspan x="131">updatedAt</tspan><tspan x="286">DATETIME</tspan><tspan x="396">current_timesta</tspan></text>
<text y="246.5"><tspan x="131">status</tspan><tspan x="286">VARCHAR(10)</tspan><tspan x="396">ACTIVATED</tspan></text>
<use href="#xi" x="379.5" y="102"/><use href="#xi" x="379.5" y="130"/><use href="#xi" x="379.5" y="158"/><use href="#xi" x="379.5" y="186"/><use href="#xi" x="379.5" y="214"/><use href="#xi" x="379.5" y="242"/>
<use href="#ck" x="55" y="102"/><use href="#ck" x="75" y="102"/><use href="#ck" x="95" y="130"/><use href="#ck" x="95" y="158"/>
</g>

<g id="product_category_detail" transform="translate(1475,701)">
<use href="#hd"/><rect y="60" width="578" height="280" fill="url(#gp)" stroke="#cfcfcf"/>
<text class="t" x="10" y="19.5">product_category_detail</text><text class="cm" x="10" y="50">Table comment</text>
<text class="h" y="78.5"><tspan x="22.5">Num</tspan><tspan x="55">PK</tspan><tspan x="75">AI</tspan><tspan x="95">FK</tspan><tspan x="115">Null</tspan><tspan x="202.5">Name</tspan><tspan x="335">Type</tspan><tspan x="435">Default</tspan><tspan x="529">Comment</tspan></text>
<text class="n"><tspan x="40" y="106.5">1</tspan><tspan x="40" y="134.5">2</tspan><tspan x="40" y="162.5">3</tspan><tspan x="40" y="190.5">4</tspan><tspan x="40" y="218.5">5</tspan><tspan x="40" y="246.5">6</tspan><tspan x="40" y="274.5">7</tspan><tspan x="40" y="302.5">8</tspan><tspan x="40" y="330.5">9</tspan></text>
<text y="106.5"><tspan x="131">idx</tspan><tspan x="286">INT UNSIGNED</tspan></text>
<text y="134.5"><tspan x="131">name</tspan><tspan x="286">VARCHAR(10)</tspan></text>
<text y="162.5"><tspan x="131">exposure</tspan><tspan x="286">VARCHAR(10)</tspan><tspan x="396">TRUE</tspan></text>
<text y="190.5"><tspan x="131">image</tspan><tspan x="286">VARCHAR(1000)</tspan></text>
<text y="218.5"><tspan x="131">productCategoryIdx1</tspan><tspan x="286">INT UNSIGNED</tspan></text>
<text y="246.5"><tspan x="131">position</tspan><tspan x="286">TINYINT</tspan></text>
<text y="274.5"><tspan x="131">createdAt</tspan><tspan x="286">DATETIME</tspan><tspan x="396">current_timesta</tspan></text>
<text y="302.5"><tspan x="131">updatedAt</tspan><tspan x="286">DATETIME</tspan><tspan x="396">current_timesta</tspan></text>
<text y="330.5"><tspan x="131">status</tspan><tspan x="286">VARCHAR(10)</tspan><tspan x="396">ACTIVATED</tspan></text>
<text class="co" x="486" y="162.5">shop에 노출시 TF</text>
<use href="#xi" x="379.5" y="102"/><use href="#xi" x="379.5" y="186"/><use href="#xi" x="379.5" y="214"/><use href="#xi" x="379.5" y="270"/><use href="#xi" x="379.5" y="298"/><use href="#xi" x="379.5" y="326"/>
<use href="#ck" x="55" y="102"/><use href="#ck" x="75" y="102"/><use href="#ck" x="115" y="186"/><use href="#ck" x="95" y="214"/><use href="#ck" x="115" y="242"/>
</g>

<g id="bid_sale" transform="translate(2145,100)">
<use href="#hd"/><rect y="60" width="578" height="476" fill="url(#gp)" stroke="#cfcfcf"/>
<text class="t" x="10" y="19.5">bid_sale</text><text class="cm" x="10" y="50">Table comment</text>
<text class="h" y="78.5"><tspan x="22.5">Num</tspan><tspan x="55">PK</tspan><tspan x="75">AI</tspan><tspan x="95">FK</tspan><tspan x="115">Null</tspan><tspan x="202.5">Name</tspan><tspan x="335">Type</tspan><tspan x="435">Default</tspan><tspan x="529">Comment</tspan></text>
<text class="n"><tspan x="40" y="106.5">1</tspan><tspan x="40" y="134.5">2</tspan><tspan x="40" y="162.5">3</tspan><tspan x="40" y="190.5">4</tspan><tspan x="40" y="218.5">5</tspan><tspan x="40" y="246.5">6</tspan><tspan x="40" y="274.5">7</tspan><tspan x="40" y="302.5">8</tspan><tspan x="40" y="330.5">9</tspan><tspan x="40" y="358.5">10</tspan><tspan x="40" y="386.5">11</tspan><tspan x="40" y="414.5">12</tspan><tspan x="40" y="442.5">13</tspan><tspan x="40" y="470.5">14</tspan><tspan x="40" y="498.5">15</tspan><tspan x="40" y="526.5">16</tspan></text>
<text y="106.5"><tspan x="131">idx</tspan><tspan x="286">INT UNSIGNED</tspan></text>
<text y="134.5"><tspan x="131">userIdx</tspan><tspan x="286">INT UNSIGNED</tspan></text>
<text y="162.5"><tspan x="131">productSizeIdx</tspan><tspan x="286">INT UNSIGNED</tspan></text>
<text y="190.5"><tspan x="131">bidPrice</tspan><tspan x="286">INT UNSIGNED</tspan></text>
<text y="218.5"><tspan x="131">deadline</tspan><tspan x="286">DATE</tspan></text>
<text y="246.5"><tspan x="131">addressIdx</tspan><tspan x="286">INT UNSIGNED</tspan></text>
<text y="274.5"><tspan x="131">inspectionFee</tspan><tspan x="286">INT UNSIGNED</tspan><tspan x="396">0</tspan></text>
<text y="302.5"><tspan x="131">commision</tspan><tspan x="286">INT UNSIGNED</tspan><tspan x="396">0</tspan></text>
<text y="330.5"><tspan x="131">shippingFee</tspan><tspan x="286">INT UNSIGNED</tspan><tspan x="396">0</tspan></text>
<text y="358.5"><tspan x="131">settlementAmount</tspan><tspan x="286">INT UNSIGNED</tspan></text>
<text y="386.5"><tspan x="131">accountIdx</tspan><tspan x="286">INT UNSIGNED</tspan></text>
<text y="414.5"><tspan x="131">orderNo</tspan><tspan x="286">varchar(20)</tspan></text>
<text y="442.5"><tspan x="131">cardIdx</tspan><tspan x="286">INT UNSIGNED</tspan></text>
<text y="470.5"><tspan x="131">createdAt</tspan><tspan x="286">DATETIME</tspan><tspan x="396">current_timesta</tspan></text>
<text y="498.5"><tspan x="131">updatedAt</tspan><tspan x="286">DATETIME</tspan><tspan x="396">current_timesta</tspan></text>
<text y="526.5"><tspan x="131">status</tspan><tspan x="286">VARCHAR(10)</tspan><tspan x="396">입찰중</tspan></text>
<text class="co" x="486" y="386.5">정산 계좌</text><text class="co" x="486" y="414.5">주문번호</text><text class="co" x="486" y="442.5">패널티 결제 카드</text><text class="co" x="486" y="526.5">BIDDING, PROC</text>
<use href="#xi" x="379.5" y="130"/><use href="#xi" x="379.5" y="158"/><use href="#xi" x="379.5" y="438"/>
<use href="#ck" x="55" y="102"/><use href="#ck" x="75" y="102"/><use href="#ck" x="95" y="130"/><use href="#ck" x="95" y="158"/><use href="#ck" x="95" y="242"/><use href="#ck" x="95" y="382"/>
</g>

<g id="bid_purchase" transform="translate(2145,681)">
<use href="#hd"/><rect y="60" width="578" height="448" fill="url(#gp)" stroke="#cfcfcf"/>
<text class="t" x="10" y="19.5">bid_purchase</text><text class="cm" x="10" y="50">Table comment</text>
<text class="h" y="78.5"><tspan x="22.5">Num</tspan><tspan x="55">PK</tspan><tspan x="75">AI</tspan><tspan x="95">FK</tspan><tspan x="115">Null</tspan><tspan x="202.5">Name</tspan><tspan x="335">Type</tspan><tspan x="435">Default</tspan><tspan x="529">Comment</tspan></text>
<text class="n"><tspan x="40" y="106.5">1</tspan><tspan x="40" y="134.5">2</tspan><tspan x="40" y="162.5">3</tspan><tspan x="40" y="190.5">4</tspan><tspan x="40" y="218.5">5</tspan><tspan x="40" y="246.5">6</tspan><tspan x="40" y="274.5">7</tspan><tspan x="40" y="302.5">8</tspan><tspan x="40" y="330.5">9</tspan><tspan x="40" y="358.5">10</tspan><tspan x="40" y="386.5">11</tspan><tspan x="40" y="414.5">12</tspan><tspan x="40" y="442.5">13</tspan><tspan x="40" y="470.5">14</tspan><tspan x="40" y="498.5">15</tspan></text>
<text y="106.5"><tspan x="131">idx</tspan><tspan x="286">INT UNSIGNED</tspan></text>
<text y="134.5"><tspan x="131">userIdx</tspan><tspan x="286">INT UNSIGNED</tspan></text>
<text y="162.5"><tspan x="131">productSizeIdx</tspan><tspan x="286">INT UNSIGNED</tspan></text>
<text y="190.5"><tspan x="131">bidPrice</tspan><tspan x="286">INT UNSIGNED</tspan></text>
<text y="218.5"><tspan x="131">deadline</tspan><tspan x="286">DATE</tspan></text>
<text y="246.5"><tspan x="131">addressIdx</tspan><tspan x="286">INT UNSIGNED</tspan><tspan x="396">0</tspan></text>
<text y="274.5"><tspan x="131">point</tspan><tspan x="286">VARCHAR(5)</tspan><tspan x="396">FALSE</tspan></text>
<text y="302.5"><tspan x="131">commission</tspan><tspan x="286">INT UNSIGNED</tspan><tspan x="396">0</tspan></text>
<text y="330.5"><tspan x="131">shippingFee</tspan><tspan x="286">INT UNSIGNED</tspan></text>
<text y="358.5"><tspan x="131">totalPrice</tspan><tspan x="286">INT UNSIGNED</tspan></text>
<text y="386.5"><tspan x="131">cardIdx</tspan><tspan x="286">INT UNSIGNED</tspan></text>
<text y="414.5"><tspan x="131">orderNo</tspan><tspan x="286">varchar(20)</tspan></text>
<text y="442.5"><tspan x="131">createdAt</tspan><tspan x="286">DATETIME</tspan><tspan x="396">current_timesta</tspan></text>
<text y="470.5"><tspan x="131">updatedAt</tspan><tspan x="286">DATETIME</tspan><tspan x="396">current_timesta</tspan></text>
<text y="498.5"><tspan x="131">status</tspan><tspan x="286">VARCHAR(10)</tspan><tspan x="396">입찰중</tspan></text>
<text class="co" x="486" y="274.5">포인트 사용할건지</text><text class="co" x="486" y="386.5">간편결제 등록된 카드</text><text class="co" x="486" y="414.5">주문번호</text><text class="co" x="486" y="498.5">입찰중/진행중/종료</text>
<use href="#xi" x="379.5" y="382"/>
<use href="#ck" x="55" y="102"/><use href="#ck" x="75" y="102"/><use href="#ck" x="95" y="130"/><use href="#ck" x="95" y="158"/><use href="#ck" x="95" y="242"/>
</g>

<g id="transaction" transform="translate(2145,1232)">
<use href="#hd"/><rect y="60" width="578" height="252" fill="url(#gp)" stroke="#cfcfcf"/>
<text class="t" x="10" y="19.5">transaction</text><text class="cm" x="10" y="50">Table comment</text>
<text class="h" y="78.5"><tspan x="22.5">Num</tspan><tspan x="55">PK</tspan><tspan x="75">AI</tspan><tspan x="95">FK</tspan><tspan x="115">Null</tspan><tspan x="202.5">Name</tspan><tspan x="335">Type</tspan><tspan x="435">Default</tspan><tspan x="529">Comment</tspan></text>
<text class="n"><tspan x="40" y="106.5">1</tspan><tspan x="40" y="134.5">2</tspan><tspan x="40" y="162.5">3</tspan><tspan x="40" y="190.5">4</tspan><tspan x="40" y="218.5">5</tspan><tspan x="40" y="246.5">6</tspan><tspan x="40" y="274.5">7</tspan><tspan x="40" y="302.5">8</tspan></text>
<text y="106.5"><tspan x="131">idx</tspan><tspan x="286">INT UNSIGNED</tspan></text>
<text y="134.5"><tspan x="131">bidPurchaseIdx</tspan><tspan x="286">INT UNSIGNED</tspan></text>
<text y="162.5"><tspan x="131">bidSaleIdx</tspan><tspan x="286">INT UNSIGNED</tspan></text>
<text y="190.5"><tspan x="131">productSizeIdx</tspan><tspan x="286">INT UNSIGNED</tspan></text>
<text y="218.5"><tspan x="131">winningBidPrice</tspan><tspan x="286">INT UNSIGNED</tspan></text>
<text y="246.5"><tspan x="131">createdAt</tspan><tspan x="286">DATETIME</tspan><tspan x="396">current_timesta</tspan></text>
<text y="274.5"><tspan x="131">updatedAt</tspan><tspan x="286">DATETIME</tspan><tspan x="396">current_timesta</tspan></text>
<text y="302.5"><tspan x="131">status</tspan><tspan x="286">VARCHAR(20)</tspan><tspan x="396">결제전</tspan></text>
<text class="co" x="486" y="246.5">카드 결제만 가능</text><text class="co" x="486" y="302.5">결제전 BEFORE_</text>
<use href="#xi" x="379.5" y="102"/><use href="#xi" x="379.5" y="130"/><use href="#xi" x="379.5" y="158"/><use href="#xi" x="379.5" y="186"/><use href="#xi" x="379.5" y="214"/><use href="#xi" x="379.5" y="242"/><use href="#xi" x="379.5" y="270"/>
<use href="#ck" x="55" y="102"/><use href="#ck" x="75" y="102"/><use href="#ck" x="95" y="186"/>
</g>

<g id="refund" transform="translate(2145,1588)">
<use href="#hd"/><rect y="60" width="578" height="168" fill="url(#gp)" stroke="#cfcfcf"/>
<text class="t" x="10" y="19.5">refund</text><text class="cm" x="10" y="50">Table comment</text>
<text class="h" y="78.5"><tspan x="22.5">Num</tspan><tspan x="55">PK</tspan><tspan x="75">AI</tspan><tspan x="95">FK</tspan><tspan x="115">Null</tspan><tspan x="202.5">Name</tspan><tspan x="335">Type</tspan><tspan x="435">Default</tspan><tspan x="529">Comment</tspan></text>
<text class="n"><tspan x="40" y="106.5">1</tspan><tspan x="40" y="134.5">2</tspan><tspan x="40" y="162.5">3</tspan><tspan x="40" y="190.5">4</tspan><tspan x="40" y="218.5">5</tspan></text>
<text y="106.5"><tspan x="131">idx</tspan><tspan x="286">INT UNSIGNED</tspan></text>
<text y="134.5"><tspan x="131">transactionIdx</tspan><tspan x="286">INT UNSIGNED</tspan></text>
<text y="162.5"><tspan x="131">createdAt</tspan><tspan x="286">DATETIME</tspan><tspan x="396">current_timesta</tspan></text>
<text y="190.5"><tspan x="131">updatedAt</tspan><tspan x="286">DATETIME</tspan><tspan x="396">current_timesta</tspan></text>
<text y="218.5"><tspan x="131">status</tspan><tspan x="286">VARCHAR(10)</tspan><tspan x="396">환불전</tspan></text>
<text class="co" x="486" y="218.5">환불전/환불완료/환</text>
<use href="#xi" x="379.5" y="102"/><use href="#xi" x="379.5" y="130"/><use href="#xi" x="379.5" y="158"/><use href="#xi" x="379.5" y="186"/><use href="#xi" x="379.5" y="214"/>
<use href="#ck" x="55" y="102"/><use href="#ck" x="75" y="102"/><use href="#ck" x="95" y="130"/>
</g>

<g id="inspection" transform="translate(2145,1860.5)">
<use href="#hd"/><rect y="60" width="578" height="224" fill="url(#gp)" stroke="#cfcfcf"/>
<text class="t" x="10" y="19.5">inspection</text><text class="cm" x="10" y="50">Table comment</text>
<text class="h" y="78.5"><tspan x="22.5">Num</tspan><tspan x="55">PK</tspan><tspan x="75">AI</tspan><tspan x="95">FK</tspan><tspan x="115">Null</tspan><tspan x="202.5">Name</tspan><tspan x="335">Type</tspan><tspan x="435">Default</tspan><tspan x="529">Comment</tspan></text>
<text class="n"><tspan x="40" y="106.5">1</tspan><tspan x="40" y="134.5">2</tspan><tspan x="40" y="162.5">3</tspan><tspan x="40" y="190.5">4</tspan><tspan x="40" y="218.5">5</tspan><tspan x="40" y="246.5">6</tspan><tspan x="40" y="274.5">7</tspan></text>
<text y="106.5"><tspan x="131">accountIdx</tspan><tspan x="286">INT UNSIGNED</tspan></text>
<text y="134.5"><tspan x="131">transactionIdx</tspan><tspan x="286">INT UNSIGNED</tspan></text>
<text y="162.5"><tspan x="131">result</tspan><tspan x="286">VARCHAR(5)</tspan></text>
<text y="190.5"><tspan x="131">content</tspan><tspan x="286">VARCHAR(45)</tspan></text>
<text y="218.5"><tspan x="131">createdAt</tspan><tspan x="286">DATETIME</tspan><tspan x="396">current_timesta</tspan></text>
<text y="246.5"><tspan x="131">updatedAt</tspan><tspan x="286">DATETIME</tspan><tspan x="396">current_timesta</tspan></text>
<text y="274.5"><tspan x="131">status</tspan><tspan x="286">VARCHAR(10)</tspan><tspan x="396">검수중</tspan></text>
<text class="co" x="486" y="162.5">검수합격/검수불합</text><text class="co" x="486" y="190.5">불합격 시 이유</text><text class="co" x="486" y="274.5">BEFORE_PAYMI</text>
<use href="#xi" x="379.5" y="102"/><use href="#xi" x="379.5" y="130"/><use href="#xi" x="379.5" y="214"/><use href="#xi" x="379.5" y="242"/><use href="#xi" x="379.5" y="270"/>
<use href="#ck" x="55" y="102"/><use href="#ck" x="75" y="102"/><use href="#ck" x="95" y="130"/><use href="#ck" x="115" y="158"/><use href="#ck" x="115" y="186"/>
</g>

<g id="payment" transform="translate(2145,2188)">
<use href="#hd"/><rect y="60" width="578" height="280" fill="url(#gp)" stroke="#cfcfcf"/>
<text class="t" x="10" y="19.5">payment</text><text class="cm" x="10" y="50">Table comment</text>
<text class="h" y="78.5"><tspan x="22.5">Num</tspan><tspan x="55">PK</tspan><tspan x="75">AI</tspan><tspan x="95">FK</tspan><tspan x="115">Null</tspan><tspan x="202.5">Name</tspan><tspan x="335">Type</tspan><tspan x="435">Default</tspan><tspan x="529">Comment</tspan></text>
<text class="n"><tspan x="40" y="106.5">1</tspan><tspan x="40" y="134.5">2</tspan><tspan x="40" y="162.5">3</tspan><tspan x="40" y="190.5">4</tspan><tspan x="40" y="218.5">5</tspan><tspan x="40" y="246.5">6</tspan><tspan x="40" y="274.5">7</tspan><tspan x="40" y="302.5">8</tspan><tspan x="40" y="330.5">9</tspan></text>
<text y="106.5"><tspan x="131">idx</tspan><tspan x="286">INT UNSIGNED</tspan></text>
<text y="134.5"><tspan x="131">userIdx</tspan><tspan x="286">INT UNSIGNED</tspan></text>
<text y="162.5"><tspan x="131">transactionIdx</tspan><tspan x="286">INT UNSIGNED</tspan></text>
<text y="190.5"><tspan x="131">cardIdx</tspan><tspan x="286">INT UNSIGNED</tspan></text>
<text y="218.5"><tspan x="131">totalPrice</tspan><tspan x="286">INT UNSIGNED</tspan></text>
<text y="246.5"><tspan x="131">pointUsed</tspan><tspan x="286">INT UNSIGNED</tspan></text>
<text y="274.5"><tspan x="131">createdAt</tspan><tspan x="286">DATETIME</tspan><tspan x="396">current_timesta</tspan></text>
<text y="302.5"><tspan x="131">updatedAt</tspan><tspan x="286">DATETIME</tspan><tspan x="396">current_timesta</tspan></text>
<text y="330.5"><tspan x="131">status</tspan><tspan x="286">VARCHAR(10)</tspan></text>
<text class="co" x="486" y="330.5">PAYMENT_SUC</text>
<use href="#xi" x="379.5" y="102"/><use href="#xi" x="379.5" y="130"/><use href="#xi" x="379.5" y="158"/><use href="#xi" x="379.5" y="186"/><use href="#xi" x="379.5" y="214"/><use href="#xi" x="379.5" y="242"/><use href="#xi" x="379.5" y="270"/><use href="#xi" x="379.5" y="298"/><use href="#xi" x="379.5" y="326"/>
<use href="#ck" x="55" y="102"/><use href="#ck" x="75" y="102"/>
</g>

<g id="watch_category" transform="translate(2815,100)">
<use href="#hd"/><rect y="60" width="578" height="168" fill="url(#gp)" stroke="#cfcfcf"/>
<text class="t" x="10" y="19.5">watch_category</text><text class="cm" x="10" y="50">Table comment</text>
<text class="h" y="78.5"><tspan x="22.5">Num</tspan><tspan x="55">PK</tspan><tspan x="75">AI</tspan><tspan x="95">FK</tspan><tspan x="115">Null</tspan><tspan x="202.5">Name</tspan><tspan x="335">Type</tspan><tspan x="435">Default</tspan><tspan x="529">Comment</tspan></text>
<text class="n"><tspan x="40" y="106.5">1</tspan><tspan x="40" y="134.5">2</tspan><tspan x="40" y="162.5">3</tspan><tspan x="40" y="190.5">4</tspan><tspan x="40" y="218.5">5</tspan></text>
<text y="106.5"><tspan x="131">idx</tspan><tspan x="286">INT UNSIGNED</tspan></text>
<text y="134.5"><tspan x="131">name</tspan><tspan x="286">VARCHAR(45)</tspan></text>
<text y="162.5"><tspan x="131">createdAt</tspan><tspan x="286">DATETIME</tspan><tspan x="396">current_timesta</tspan></text>
<text y="190.5"><tspan x="131">updatedAt</tspan><tspan x="286">DATETIME</tspan><tspan x="396">current_timesta</tspan></text>
<text y="218.5"><tspan x="131">status</tspan><tspan x="286">VARCHAR(10)</tspan><tspan x="396">ACTIVATED</tspan></text>
<use href="#xi" x="379.5" y="214"/>
<use href="#ck" x="55" y="102"/><use href="#ck" x="75" y="102"/>
</g>

<g id="watch" transform="translate(2815,372)">
<use href="#hd"/><rect y="60" width="578" height="252" fill="url(#gp)" stroke="#cfcfcf"/>
<text class="t" x="10" y="19.5">watch</text><text class="cm" x="10" y="50">Table comment</text>
<text class="h" y="78.5"><tspan x="22.5">Num</tspan><tspan x="55">PK</tspan><tspan x="75">AI</tspan><tspan x="95">FK</tspan><tspan x="115">Null</tspan><tspan x="202.5">Name</tspan><tspan x="335">Type</tspan><tspan x="435">Default</tspan><tspan x="529">Comment</tspan></text>
<text class="n"><tspan x="40" y="106.5">1</tspan><tspan x="40" y="134.5">2</tspan><tspan x="40" y="162.5">3</tspan><tspan x="40" y="190.5">4</tspan><tspan x="40" y="218.5">5</tspan><tspan x="40" y="246.5">6</tspan><tspan x="40" y="274.5">7</tspan><tspan x="40" y="302.5">8</tspan></text>
<text y="106.5"><tspan x="131">idx</tspan><tspan x="286">INT UNSIGNED</tspan></text>
<text y="134.5"><tspan x="131">watchCategoryIdx</tspan><tspan x="286">INT UNSIGNED</tspan></text>
<text y="162.5"><tspan x="131">productIdx</tspan><tspan x="286">INT UNSIGNED</tspan></text>
<text y="190.5"><tspan x="131">youtubeChannelId</tspan><tspan x="286">VARCHAR(400)</tspan></text>
<text y="218.5"><tspan x="131">youtubeVideoId</tspan><tspan x="286">VARCHAR(400)</tspan></text>
<text y="246.5"><tspan x="131">createdAt</tspan><tspan x="286">DATETIME</tspan><tspan x="396">current_timesta</tspan></text>
<text y="274.5"><tspan x="131">updatedAt</tspan><tspan x="286">DATETIME</tspan><tspan x="396">current_timesta</tspan></text>
<text y="302.5"><tspan x="131">status</tspan><tspan x="286">VARCHAR(10)</tspan><tspan x="396">ACTIVATED</tspan></text>
<use href="#ck" x="55" y="102"/><use href="#ck" x="75" y="102"/><use href="#ck" x="95" y="130"/><use href="#ck" x="95" y="158"/>
</g>

<g id="style" transform="translate(3485.4,100.4)">
<use href="#hd"/><rect y="60" width="578" height="224" fill="url(#gp)" stroke="#cfcfcf"/>
<text class="t" x="10" y="19.5">style</text><text class="cm" x="10" y="50">Table comment</text>
<text class="h" y="78.5"><tspan x="22.5">Num</tspan><tspan x="55">PK</tspan><tspan x="75">AI</tspan><tspan x="95">FK</tspan><tspan x="115">Null</tspan><tspan x="202.5">Name</tspan><tspan x="335">Type</tspan><tspan x="435">Default</tspan><tspan x="529">Comment</tspan></text>
<text class="n"><tspan x="40" y="106.5">1</tspan><tspan x="40" y="134.5">2</tspan><tspan x="40" y="162.5">3</tspan><tspan x="40" y="190.5">4</tspan><tspan x="40" y="218.5">5</tspan><tspan x="40" y="246.5">6</tspan><tspan x="40" y="274.5">7</tspan></text>
<text y="106.5"><tspan x="131">idx</tspan><tspan x="286">INT UNSIGNED</tspan></text>
<text y="134.5"><tspan x="131">userIdx</tspan><tspan x="286">INT UNSIGNED</tspan></text>
<text y="162.5"><tspan x="131">productIdx</tspan><tspan x="286">INT UNSIGNED</tspan></text>
<text y="190.5"><tspan x="131">content</tspan><tspan x="286">VARCHAR(500)</tspan></text>
<text y="218.5"><tspan x="131">createdAt</tspan><tspan x="286">DATETIME</tspan><tspan x="396">current_timesta</tspan></text>
<text y="246.5"><tspan x="131">updatedAt</tspan><tspan x="286">DATETIME</tspan><tspan x="396">current_timesta</tspan></text>
<text y="274.5"><tspan x="131">status</tspan><tspan x="286">VARCHAR(10)</tspan><tspan x="396">ACTIVATED</tspan></text>
<use href="#ck" x="55" y="102"/><use href="#ck" x="75" y="102"/><use href="#ck" x="95" y="130"/><use href="#ck" x="95" y="158"/><use href="#ck" x="115" y="186"/>
</g>

<g id="style_product" transform="translate(3485.4,428.6)">
<use href="#hd"/><rect y="60" width="578" height="196" fill="url(#gp)" stroke="#cfcfcf"/>
<text class="t" x="10" y="19.5">style_product</text><text class="cm" x="10" y="50">Table comment</text>
<text class="h" y="78.5"><tspan x="22.5">Num</tspan><tspan x="55">PK</tspan><tspan x="75">AI</tspan><tspan x="95">FK</tspan><tspan x="115">Null</tspan><tspan x="202.5">Name</tspan><tspan x="335">Type</tspan><tspan x="435">Default</tspan><tspan x="529">Comment</tspan></text>
<text class="n"><tspan x="40" y="106.5">1</tspan><tspan x="40" y="134.5">2</tspan><tspan x="40" y="162.5">3</tspan><tspan x="40" y="190.5">4</tspan><tspan x="40" y="218.5">5</tspan><tspan x="40" y="246.5">6</tspan></text>
<text y="106.5"><tspan x="131">idx</tspan><tspan x="286">INT UNSIGNED</tspan></text>
<text y="134.5"><tspan x="131">styleIdx</tspan><tspan x="286">INT UNSIGNED</tspan></text>
<text y="162.5"><tspan x="131">productIdx</tspan><tspan x="286">INT UNSIGNED</tspan></text>
<text y="190.5"><tspan x="131">createdAt</tspan><tspan x="286">DATETIME</tspan><tspan x="396">current_timesta</tspan></text>
<text y="218.5"><tspan x="131">updatedAt</tspan><tspan x="286">DATETIME</tspan><tspan x="396">current_timesta</tspan></text>
<text y="246.5"><tspan x="131">status</tspan><tspan x="286">VARCHAR(10)</tspan><tspan x="396">ACTIVATED</tspan></text>
<use href="#xi" x="379.5" y="102"/><use href="#xi" x="379.5" y="130"/><use href="#xi" x="379.5" y="158"/><use href="#xi" x="379.5" y="186"/><use href="#xi" x="379.5" y="214"/><use href="#xi" x="379.5" y="242"/>
<use href="#ck" x="55" y="102"/><use href="#ck" x="75" y="102"/><use href="#ck" x="95" y="130"/><use href="#ck" x="95" y="158"/>
</g>

<g id="style_image" transform="translate(3485.4,728.5)">
<use href="#hd"/><rect y="60" width="578" height="224" fill="url(#gp)" stroke="#cfcfcf"/>
<text class="t" x="10" y="19.5">style_image</text><text class="cm" x="10" y="50">Table comment</text>
<text class="h" y="78.5"><tspan x="22.5">Num</tspan><tspan x="55">PK</tspan><tspan x="75">AI</tspan><tspan x="95">FK</tspan><tspan x="115">Null</tspan><tspan x="202.5">Name</tspan><tspan x="335">Type</tspan><tspan x="435">Default</tspan><tspan x="529">Comment</tspan></text>
<text class="n"><tspan x="40" y="106.5">1</tspan><tspan x="40" y="134.5">2</tspan><tspan x="40" y="162.5">3</tspan><tspan x="40" y="190.5">4</tspan><tspan x="40" y="218.5">5</tspan><tspan x="40" y="246.5">6</tspan><tspan x="40" y="274.5">7</tspan></text>
<text y="106.5"><tspan x="131">idx</tspan><tspan x="286">INT UNSIGNED</tspan></text>
<text y="134.5"><tspan x="131">styleIdx</tspan><tspan x="286">INT UNSIGNED</tspan></text>
<text y="162.5"><tspan x="131">image</tspan><tspan x="286">VARCHAR(1000)</tspan></text>
<text y="190.5"><tspan x="131">position</tspan><tspan x="286">TINYINT</tspan></text>
<text y="218.5"><tspan x="131">createdAt</tspan><tspan x="286">DATETIME</tspan><tspan x="396">current_timesta</tspan></text>
<text y="246.5"><tspan x="131">updatedAt</tspan><tspan x="286">DATETIME</tspan><tspan x="396">current_timesta</tspan></text>
<text y="274.5"><tspan x="131">status</tspan><tspan x="286">VARCHAR(10)</tspan><tspan x="396">'ACTIVATED'</tspan></text>
<use href="#ck" x="55" y="102"/><use href="#ck" x="75" y="102"/>
</g>

<g id="style_comment" transform="translate(3485.4,1056)">
<use href="#hw"/><rect y="90" width="698" height="252" fill="url(#gw)" stroke="#cfcfcf"/>
<text class="t" x="10" y="19.5">style_comment</text><text class="cm" x="10" y="50">Table logical name</text><text class="cm" x="10" y="80">Table comment</text>
<text class="h" y="108.5"><tspan x="22.5">Num</tspan><tspan x="55">PK</tspan><tspan x="75">AI</tspan><tspan x="95">FK</tspan><tspan x="115">Null</tspan><tspan x="175">Logical Name</tspan><tspan x="302.5">Name</tspan><tspan x="435">Type</tspan><tspan x="535">Default</tspan><tspan x="629">Comment</tspan></text>
<text class="n"><tspan x="41" y="136.5">1</tspan><tspan x="41" y="164.5">2</tspan><tspan x="41" y="192.5">3</tspan><tspan x="41" y="220.5">4</tspan><tspan x="41" y="248.5">5</tspan><tspan x="41" y="276.5">6</tspan><tspan x="41" y="304.5">7</tspan><tspan x="41" y="332.5">8</tspan></text>
<text y="136.5"><tspan x="231">idx</tspan><tspan x="386">INT UNSIGNED</tspan></text>
<text y="164.5"><tspan x="231">userIdx</tspan><tspan x="386">INT UNSIGNED</tspan></text>
<text y="192.5"><tspan x="231">styleIdx</tspan><tspan x="386">INT UNSIGNED</tspan></text>
<text y="220.5"><tspan x="231">parentIdx</tspan><tspan x="386">INT UNSIGNED</tspan></text>
<text y="248.5"><tspan x="231">content</tspan><tspan x="386">VARCHAR(45)</tspan></text>
<text y="276.5"><tspan x="231">createdAt</tspan><tspan x="386">DATETIME</tspan><tspan x="496">current_timesta</tspan></text>
<text y="304.5"><tspan x="231">updatedAt</tspan><tspan x="386">DATETIME</tspan><tspan x="496">current_timesta</tspan></text>
<text y="332.5"><tspan x="231">status</tspan><tspan x="386">VARCHAR(10)</tspan><tspan x="496">ACTIVATED</tspan></text>
<text class="cw" x="586" y="304.5">수정은 불가..</text>
<use href="#xi" x="479" y="132"/><use href="#xi" x="479" y="160"/><use href="#xi" x="479" y="188"/><use href="#xi" x="479" y="216"/><use href="#xi" x="479" y="272"/><use href="#xi" x="479" y="300"/><use href="#xi" x="479" y="328"/>
<use href="#rw" y="132"/><use href="#rw" y="160"/><use href="#rw" y="188"/><use href="#rw" y="216"/><use href="#rw" y="244"/><use href="#rw" y="272"/><use href="#rw" y="300"/><use href="#rw" y="328"/>
<use href="#ck" x="55" y="132"/><use href="#ck" x="75" y="132"/><use href="#ck" x="95" y="160"/><use href="#ck" x="95" y="188"/><use href="#ck" x="115" y="216"/>
<g transform="translate(0,342)"><rect width="698" height="24" fill="#e9e9e9"/><rect x="6" y="3" width="85" height="18" rx="2" fill="#fff"/><text class="f" x="11" y="16">SQL / Menu</text><path d="M75,10h7l-3.5,4z" fill="#5fa9c6"/><text class="f" x="604" y="17" style="font-size:12px">IX UQ</text><circle cx="649.5" cy="12" r="5" fill="none" stroke="#5fa9c6" stroke-width="1.3"/><path d="M664,15l5,-5l5,5" fill="none" stroke="#5fa9c6" stroke-width="1.5"/><circle cx="688" cy="12" r="5" fill="#5fa9c6"/><circle cx="688" cy="12" r="2" fill="#e9e9e9"/></g>
</g>

<g id="style_like" transform="translate(3485.4,1443)">
<use href="#hd"/><rect y="60" width="578" height="196" fill="url(#gp)" stroke="#cfcfcf"/>
<text class="t" x="10" y="19.5">style_like</text><text class="cm" x="10" y="50">Table comment</text>
<text class="h" y="78.5"><tspan x="22.5">Num</tspan><tspan x="55">PK</tspan><tspan x="75">AI</tspan><tspan x="95">FK</tspan><tspan x="115">Null</tspan><tspan x="202.5">Name</tspan><tspan x="335">Type</tspan><tspan x="435">Default</tspan><tspan x="529">Comment</tspan></text>
<text class="n"><tspan x="40" y="106.5">1</tspan><tspan x="40" y="134.5">2</tspan><tspan x="40" y="162.5">3</tspan><tspan x="40" y="190.5">4</tspan><tspan x="40" y="218.5">5</tspan><tspan x="40" y="246.5">6</tspan></text>
<text y="106.5"><tspan x="131">idx</tspan><tspan x="286">INT UNSIGNED</tspan></text>
<text y="134.5"><tspan x="131">userIdx</tspan><tspan x="286">INT UNSIGNED</tspan></text>
<text y="162.5"><tspan x="131">styleIdx</tspan><tspan x="286">INT UNSIGNED</tspan></text>
<text y="190.5"><tspan x="131">createdAt</tspan><tspan x="286">DATETIME</tspan><tspan x="396">current_timesta</tspan></text>
<text y="218.5"><tspan x="131">updatedAt</tspan><tspan x="286">DATETIME</tspan><tspan x="396">current_timesta</tspan></text>
<text y="246.5"><tspan x="131">status</tspan><tspan x="286">VARCHAR(10)</tspan><tspan x="396">ACTIVATED</tspan></text>
<use href="#xi" x="379.5" y="102"/><use href="#xi" x="379.5" y="130"/><use href="#xi" x="379.5" y="158"/><use href="#xi" x="379.5" y="186"/><use href="#xi" x="379.5" y="214"/><use href="#xi" x="379.5" y="242"/>
<use href="#ck" x="55" y="102"/><use href="#ck" x="75" y="102"/><use href="#ck" x="95" y="130"/><use href="#ck" x="95" y="158"/><use href="#ck" x="55" y="214"/>
</g>
</g>
</svg>
